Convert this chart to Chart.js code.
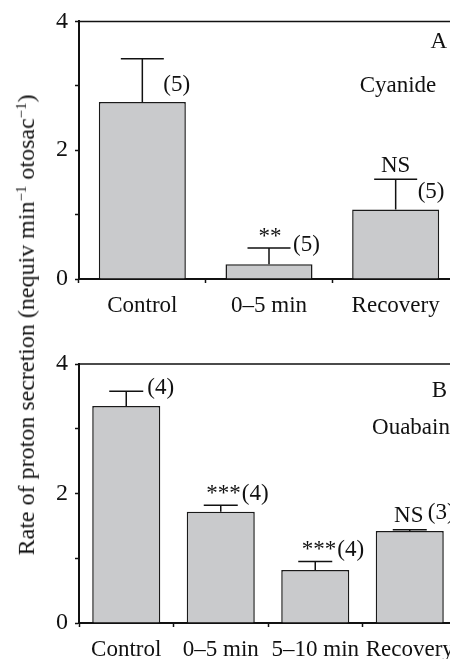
<!DOCTYPE html>
<html>
<head>
<meta charset="utf-8">
<script src="https://cdn.jsdelivr.net/npm/chart.js@4.4.0/dist/chart.umd.min.js"></script>
<style>
  html, body { margin: 0; padding: 0; background: #fff; }
  #page { position: relative; width: 450px; height: 659px; overflow: hidden; }
  .panel { position: absolute; left: 0; }
  #ytitle {
    position: absolute; left: 26px; top: 325px;
    transform: translate(-50%, -50%) rotate(-90deg);
    white-space: nowrap; font: 24px 'Liberation Serif', 'Times New Roman', serif;
    color: #111; line-height: 1;
  }
  #ytitle span { font-size: 0.62em; vertical-align: 0.55em; }
</style>
</head>
<body>
<div id="page">
  <canvas id="chartA" class="panel" width="470" height="330" style="top:0"></canvas>
  <canvas id="chartB" class="panel" width="470" height="329" style="top:330px"></canvas>
  <div id="ytitle">Rate of proton secretion (nequiv min<span>−1</span> otosac<span>−1</span>)</div>
</div>
<script>
// Panel A - cyanide
const categoriesA = ['Control', '0–5 min', 'Recovery'];
const meansA = [2.75, 0.23, 1.08];
const errorsA = [0.67, 0.25, 0.47];
const sigA = ['', '**', 'NS'];
const nA = ['(5)', '(5)', '(5)'];

// Panel B - ouabain
const categoriesB = ['Control', '0–5 min', '5–10 min', 'Recovery'];
const meansB = [3.35, 1.72, 0.82, 1.42];
const errorsB = [0.23, 0.10, 0.13, 0.02];
const sigB = ['', '***', '***', 'NS'];
const nB = ['(4)', '(4)', '(4)', '(3)'];

const yTicks = [0, 2, 4];

const FONT = "'Liberation Serif', 'Times New Roman', serif";
const INK = '#111';

// where the annotation texts sit, relative to the top of each error bar
const labelPosA = [
    { n: [21, 32, 'left'] },
    { sig: [1, -5, 'center'], n: [24, 3, 'left'] },
    { sig: [0, -7, 'center'], n: [22, 19, 'left'] }
];
const labelPosB = [
    { n: [21, 3, 'left'] },
    { sig: [20, -5, 'right'], n: [21, -5, 'left'] },
    { sig: [21, -5, 'right'], n: [22, -5, 'left'] },
    { sig: [-1, -8, 'center'], n: [18, -11, 'left'] }
];

const barExtras = {
    id: 'barExtras',
    afterDatasetsDraw(chart, args, opts) {
        const ctx = chart.ctx;
        const y = chart.scales.y;
        const area = chart.chartArea;
        const meta = chart.getDatasetMeta(0);

        // frame top / right
        ctx.save();
        ctx.strokeStyle = INK;
        ctx.lineWidth = 1.5;
        ctx.beginPath();
        ctx.moveTo(area.left, area.top);
        ctx.lineTo(area.right, area.top);
        ctx.lineTo(area.right, area.bottom);
        ctx.stroke();

        ctx.font = '23px ' + FONT;
        ctx.fillStyle = INK;
        ctx.textBaseline = 'alphabetic';
        meta.data.forEach((bar, i) => {
            const top = y.getPixelForValue(opts.means[i] + opts.errors[i]);
            const base = y.getPixelForValue(opts.means[i]);
            ctx.beginPath();
            ctx.lineWidth = 1.5;
            ctx.moveTo(bar.x, base);
            ctx.lineTo(bar.x, top);
            ctx.moveTo(bar.x - opts.cap, top);
            ctx.lineTo(bar.x + opts.cap, top);
            ctx.stroke();

            const pos = opts.labelPos[i];
            if (opts.sig[i] && pos.sig) {
                ctx.textAlign = pos.sig[2];
                ctx.fillText(opts.sig[i], bar.x + pos.sig[0], top + pos.sig[1]);
            }
            if (opts.n[i] && pos.n) {
                ctx.textAlign = pos.n[2];
                ctx.fillText(opts.n[i], bar.x + pos.n[0], top + pos.n[1]);
            }
        });

        ctx.textAlign = 'right';
        ctx.fillText(opts.letter, 447, opts.letterY);
        ctx.textAlign = 'center';
        ctx.fillText(opts.drug, opts.drugX, opts.drugY);
        ctx.restore();
    }
};

function makePanel(id, cats, means, errors, sig, n, extra) {
    return new Chart(document.getElementById(id), {
        type: 'bar',
        data: {
            labels: cats,
            datasets: [{
                data: means,
                backgroundColor: '#c9cacc',
                borderColor: '#1a1a1a',
                borderWidth: 1.5,
                categoryPercentage: 1,
                barPercentage: extra.barPct
            }]
        },
        options: {
            responsive: false,
            animation: false,
            layout: { padding: { top: extra.top, right: extra.right, left: 0, bottom: 0 } },
            plugins: {
                legend: { display: false },
                tooltip: { enabled: false },
                barExtras: {
                    means: means, errors: errors, sig: sig, n: n,
                    cap: extra.cap, labelPos: extra.labelPos,
                    letter: extra.letter, letterY: extra.letterY,
                    drug: extra.drug, drugX: extra.drugX, drugY: extra.drugY
                }
            },
            scales: {
                x: {
                    afterFit: s => { s.height = extra.xHeight; },
                    border: { display: true, color: INK, width: 2 },
                    grid: { offset: true, drawOnChartArea: false, drawTicks: true, tickLength: 4, tickColor: INK, tickWidth: 1.5 },
                    ticks: {
                        autoSkip: false, maxRotation: 0, minRotation: 0, padding: 9,
                        color: INK, font: { family: FONT, size: 23 }
                    }
                },
                y: {
                    min: 0, max: 4,
                    afterFit: s => { s.width = 79; },
                    border: { display: true, color: INK, width: 2 },
                    grid: { drawOnChartArea: false, drawTicks: true, tickLength: 4, tickColor: INK, tickWidth: 1.5 },
                    ticks: {
                        stepSize: 1, padding: 7, color: INK,
                        font: { family: FONT, size: 24 },
                        callback: v => yTicks.includes(v) ? v : ''
                    }
                }
            }
        },
        plugins: [barExtras]
    });
}

makePanel('chartA', categoriesA, meansA, errorsA, sigA, nA, {
    barPct: 0.687, top: 20, right: 11, xHeight: 51, cap: 21.5, labelPos: labelPosA,
    letter: 'A', letterY: 48, drug: 'Cyanide', drugX: 398, drugY: 92
});
makePanel('chartB', categoriesB, meansB, errorsB, sigB, nB, {
    barPct: 0.72, top: 34, right: 13, xHeight: 36, cap: 17, labelPos: labelPosB,
    letter: 'B', letterY: 67, drug: 'Ouabain', drugX: 411, drugY: 104
});
</script>
</body>
</html>
